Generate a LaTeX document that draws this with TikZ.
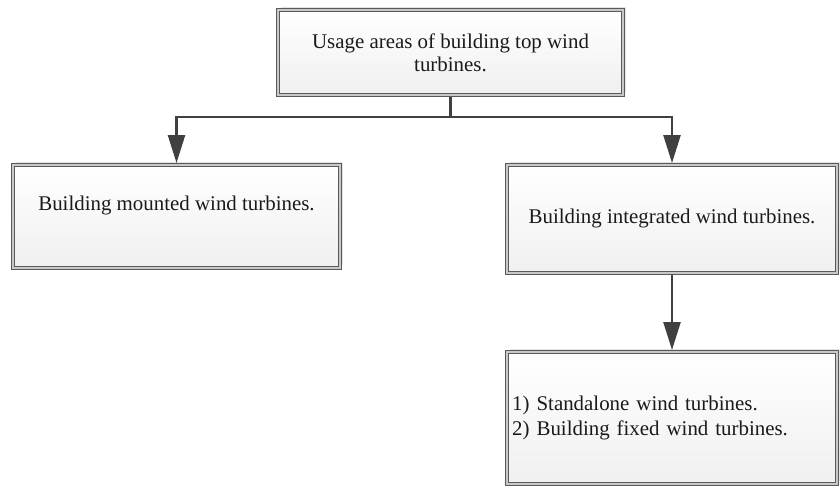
\documentclass[tikz,border=0pt]{standalone}
\usepackage{fontspec}
\setmainfont{Liberation Serif}
\usetikzlibrary{arrows.meta,shadows}
\definecolor{boxline}{HTML}{5A5A5A}
\definecolor{boxgap}{HTML}{C8C8C8}
\definecolor{conncol}{HTML}{404040}
\definecolor{txtcol}{HTML}{1A1A1A}
\tikzset{
  box/.style={rectangle, draw=boxline, line width=1.2pt, double=boxgap, double distance=2pt,
    top color=white, bottom color=gray!12, inner sep=0pt, outer sep=2.2pt,
    drop shadow={opacity=0.22, shadow xshift=3pt, shadow yshift=3pt},
    text=txtcol, font=\fontsize{20.9}{23}\selectfont, align=center},
  conn/.style={draw=conncol, line width=2.4pt,
    -{Triangle[length=28pt, width=17pt]}},
  plain/.style={draw=conncol, line width=2.4pt}
}
\begin{document}
\begin{tikzpicture}[x=1pt,y=-1pt]
\useasboundingbox (0,0) rectangle (840,487);
\node[box, minimum width=344.6pt, minimum height=84.6pt] (top) at (450.5,52.5)
  {Usage areas of building top wind\\turbines.};
\node[box, minimum width=326.6pt, minimum height=102.6pt] (left) at (176.5,216.5)
  {\raisebox{6.5pt}[0pt][0pt]{Building mounted wind turbines.}};
\node[box, minimum width=329.6pt, minimum height=107.6pt] (right) at (672,219)
  {Building integrated wind turbines.};
\node[box, minimum width=329.6pt, minimum height=131.6pt, text width=319.6pt, align=left,
  font=\fontsize{20.9}{25}\selectfont] (bottom) at (672,418)
  {1) Standalone wind turbines.\\2) Building fixed wind turbines.};
\coordinate (split) at (450.5,117);
\draw[plain] (top.south) -- (split);
\draw[conn] (split) -| (left.north);
\draw[conn] (split) -| (right.north);
\draw[conn] (right.south) -- (bottom.north);
\end{tikzpicture}
\end{document}
